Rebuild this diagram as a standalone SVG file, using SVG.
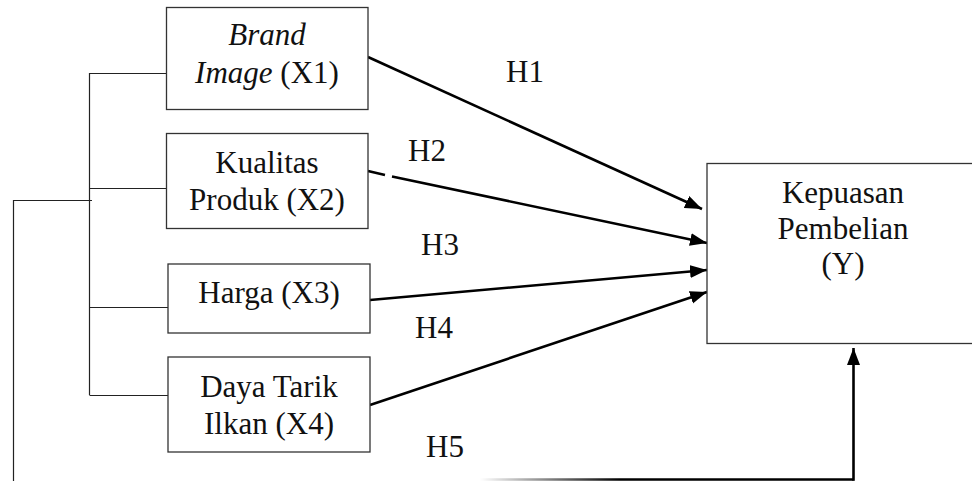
<svg xmlns="http://www.w3.org/2000/svg" width="972" height="481" viewBox="0 0 972 481">
<style>
.box{fill:#fff;stroke:#333;stroke-width:1.3}
.t{font-family:"Times New Roman","Liberation Serif",serif;font-size:31px;fill:#111;text-anchor:middle}
.i{font-style:italic}
.tree{fill:none;stroke:#222;stroke-width:1.2}
.arr{fill:none;stroke:#000;stroke-width:2.6}
</style>
<defs>
<marker id="ah" markerUnits="userSpaceOnUse" markerWidth="18" markerHeight="14" refX="17" refY="6.5" orient="auto">
<path d="M0,0 L17,6.5 L0,13 z" fill="#000"/>
</marker>
<linearGradient id="fade" gradientUnits="userSpaceOnUse" x1="480" y1="0" x2="620" y2="0">
<stop offset="0" stop-color="#000" stop-opacity="0"/>
<stop offset="1" stop-color="#000" stop-opacity="1"/>
</linearGradient>
</defs>
<rect width="972" height="481" fill="#fff"/>
<g id="connectors">
<path class="tree" d="M89.5,73 V395 M89.5,73.5 H166 M89.5,188.5 H166 M89.5,307.5 H170 M89.5,395.5 H168 M13.5,481 V200.5 H92"/>
<path class="arr" d="M368,57 L702,209" marker-end="url(#ah)"/>
<path class="arr" d="M368,171 L385,175 M392,176.5 L707,243" marker-end="url(#ah)"/>
<path class="arr" d="M370,300 L707,270" marker-end="url(#ah)"/>
<path class="arr" d="M370,405 L707,292" marker-end="url(#ah)"/>
<path d="M480,479.5 H853.5" stroke="url(#fade)" stroke-width="2.4" fill="none"/>
<path class="arr" d="M853.5,480.8 V348" marker-end="url(#ah)"/>
</g>
<g id="labels">
<text class="t" x="525" y="82">H1</text>
<text class="t" x="427" y="161">H2</text>
<text class="t" x="440" y="255">H3</text>
<text class="t" x="434" y="338">H4</text>
<text class="t" x="445" y="457">H5</text>
</g>
<g id="x1">
<rect class="box" x="166.5" y="7.5" width="201.5" height="102"/>
<text class="t i" x="267" y="45">Brand</text>
<text class="t" x="267" y="83"><tspan class="i">Image</tspan> (X1)</text>
</g>
<g id="x2">
<rect class="box" x="166.5" y="133.5" width="201.5" height="95"/>
<text class="t" x="267" y="173">Kualitas</text>
<text class="t" x="267" y="210">Produk (X2)</text>
</g>
<g id="x3">
<rect class="box" x="168" y="264" width="202" height="69"/>
<text class="t" x="269" y="303">Harga (X3)</text>
</g>
<g id="x4">
<rect class="box" x="168" y="357" width="202" height="95"/>
<text class="t" x="269" y="397">Daya Tarik</text>
<text class="t" x="269" y="434">Ilkan (X4)</text>
</g>
<g id="y">
<rect class="box" x="707" y="163.5" width="300" height="180"/>
<text class="t" x="843" y="203">Kepuasan</text>
<text class="t" x="843" y="239">Pembelian</text>
<text class="t" x="843" y="274">(Y)</text>
</g>
</svg>
